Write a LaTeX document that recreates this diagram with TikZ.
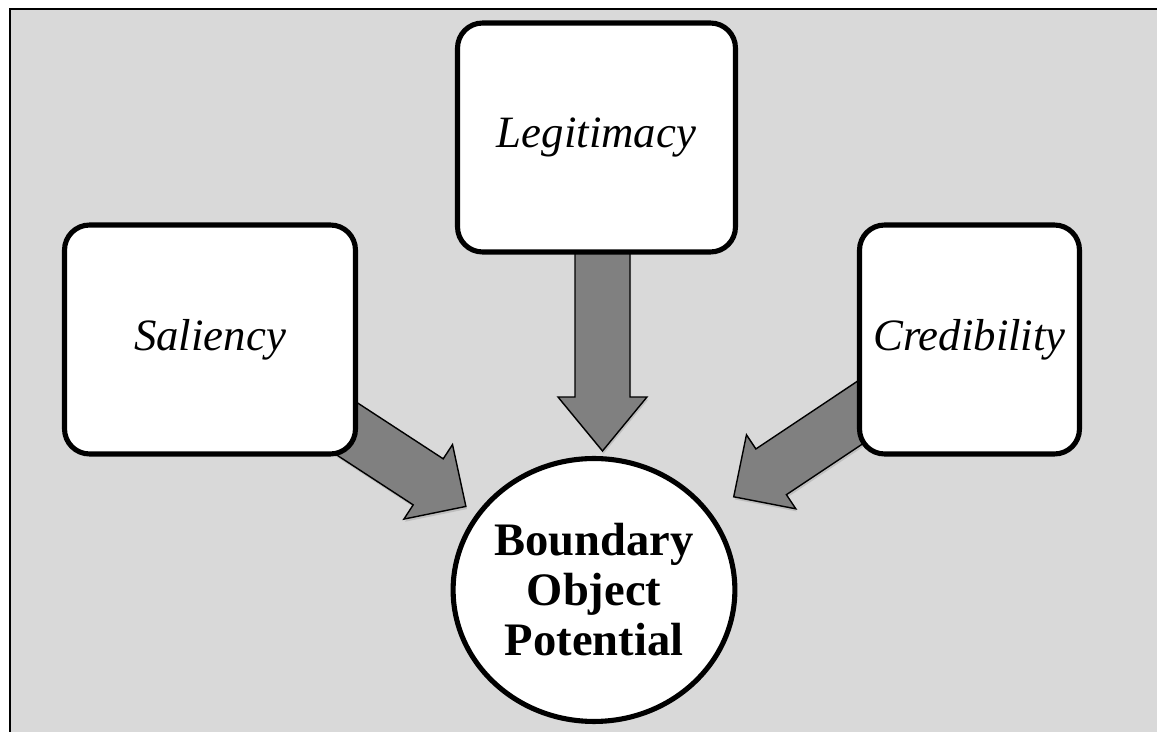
\documentclass[tikz,border=0pt]{standalone}
\usepackage{fontspec}
\setmainfont{Liberation Serif}
\usetikzlibrary{calc,shapes.geometric,shadows,backgrounds}

\definecolor{panelgray}{HTML}{D9D9D9}
\definecolor{arrowgray}{HTML}{808080}

\tikzset{
  factor/.style={draw, line width=2.9pt, rounded corners=0.5cm, fill=white,
    minimum height=4.58cm, inner sep=0pt,
    font=\fontsize{25.5}{30}\selectfont\itshape},
  outcome/.style={draw, ellipse, line width=2.9pt, fill=white,
    minimum width=5.6cm, minimum height=5.26cm, inner sep=0pt, align=center,
    font=\fontsize{26.5}{28.5}\selectfont\bfseries},
  bigarrow/.style={draw=black, line width=0.8pt, fill=arrowgray, line join=miter,
    drop shadow={shadow xshift=0.6pt, shadow yshift=-1.5pt, opacity=0.3}}
}

% #1 name of head base, #2 from, #3 tip, #4 head length
\newcommand{\blockarrow}[4]{
  \coordinate (#1) at ($(#3)!#4!(#2)$);
  \draw[bigarrow] ($(#2)!0.55cm!90:(#3)$) -- ($(#1)!0.55cm!90:(#3)$)
    -- ($(#1)!0.89cm!90:(#3)$) -- (#3) -- ($(#1)!0.89cm!-90:(#3)$)
    -- ($(#1)!0.55cm!-90:(#3)$) -- ($(#2)!0.55cm!-90:(#3)$) -- cycle;
}

\begin{document}
\begin{tikzpicture}[x=0.02cm, y=-0.02cm]

\useasboundingbox (0,0) rectangle (1157,732);
\clip (0,0) rectangle (1157,732);

\node[factor, minimum width=5.56cm] (legit) at (596.5,137.5) {Legitimacy};
\node[factor, minimum width=5.82cm] (salien) at (210,339.5) {Saliency};
\node[factor, minimum width=4.4cm] (cred) at (969.5,339.5) {Credibility};

\node[outcome] (bop) at (594,590) {Boundary\\Object\\Potential};

\coordinate (tipS) at ($(bop.center)!3.06cm!(salien.center)$);
\coordinate (tipC) at ($(bop.center)!3.36cm!(cred.center)$);
\coordinate (tipL) at (602.5,451);
\coordinate (topL) at (tipL |- legit.center);

\begin{pgfonlayer}{background}
\draw[line width=1.6pt, fill=panelgray] (10,9) rectangle (1200,780);
\blockarrow{baseS}{salien.center}{tipS}{0.9cm}
\blockarrow{baseL}{topL}{tipL}{1.08cm}
\blockarrow{baseC}{cred.center}{tipC}{0.9cm}
\end{pgfonlayer}

\end{tikzpicture}
\end{document}
